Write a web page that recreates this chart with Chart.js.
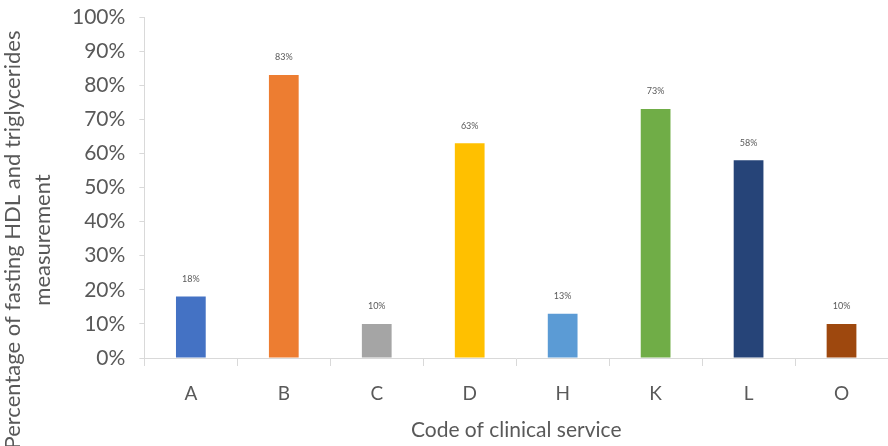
<!DOCTYPE html>
<html>
<head>
<meta charset="utf-8">
<script src="https://cdn.jsdelivr.net/npm/chart.js@4"></script>
<style>
  html, body { margin: 0; padding: 0; background: #fff; }
  #wrap { width: 888px; height: 446px; }
</style>
</head>
<body>
<div id="wrap"><canvas id="serviceChart"></canvas></div>
<script>
// Chart values
const services = ['A', 'B', 'C', 'D', 'H', 'K', 'L', 'O'];
const percentages = [18, 83, 10, 63, 13, 73, 58, 10];
const barColors = ['#4472C4', '#ED7D31', '#A5A5A5', '#FFC000', '#5B9BD5', '#70AD47', '#264478', '#9E480E'];
const yTicks = [0, 10, 20, 30, 40, 50, 60, 70, 80, 90, 100];
const yTitleLines = ['Percentage of fasting HDL and triglycerides', 'measurement'];

const textColor = '#595959';
const axisColor = '#D9D9D9';

// small labels above each bar
const valueLabels = {
    id: 'valueLabels',
    afterDatasetsDraw(chart) {
        const ctx = chart.ctx;
        const meta = chart.getDatasetMeta(0);
        ctx.save();
        ctx.font = '9px Lato';
        ctx.fillStyle = textColor;
        ctx.textAlign = 'center';
        ctx.textBaseline = 'bottom';
        meta.data.forEach((bar, i) => {
            ctx.fillText(percentages[i] + '%', bar.x, bar.y - 13);
        });
        ctx.restore();
    }
};

// y title sits lower than the plot centre in the original, so draw it by hand
const yTitle = {
    id: 'yTitle',
    afterDraw(chart) {
        const ctx = chart.ctx;
        ctx.save();
        ctx.translate(0, 240);
        ctx.rotate(-Math.PI / 2);
        ctx.font = '22px Lato';
        ctx.fillStyle = textColor;
        ctx.textAlign = 'center';
        ctx.textBaseline = 'middle';
        ctx.fillText(yTitleLines[0], 0, 13);
        ctx.fillText(yTitleLines[1], 0, 43);
        ctx.restore();
    }
};

const ctx = document.getElementById('serviceChart').getContext('2d');
const serviceChart = new Chart(ctx, {
    type: 'bar',
    data: {
        labels: services,
        datasets: [{
            label: 'Percentage',
            data: percentages,
            backgroundColor: barColors,
            borderWidth: 0,
            barPercentage: 0.32,
            categoryPercentage: 1
        }]
    },
    options: {
        responsive: true,
        maintainAspectRatio: false,
        animation: false,
        layout: { padding: { top: 0, right: -6, bottom: 3, left: 58 } },
        plugins: {
            legend: { display: false },
            tooltip: { enabled: false }
        },
        scales: {
            x: {
                afterFit(axis) {
                    axis.paddingLeft = 0;
                    axis.paddingRight = 0;
                },
                grid: { display: true, drawOnChartArea: false, color: axisColor, tickLength: 8, offset: true },
                border: { display: true, color: axisColor, width: 1 },
                ticks: { color: textColor, font: { family: 'Lato', size: 19 }, padding: 16 },
                title: {
                    display: true,
                    text: 'Code of clinical service',
                    color: textColor,
                    font: { family: 'Lato', size: 21 },
                    padding: { top: -3, bottom: 0 }
                }
            },
            y: {
                min: 0,
                max: 100,
                afterBuildTicks(axis) { axis.ticks = yTicks.map(v => ({ value: v })); },
                afterFit(axis) {
                    axis.paddingTop = 17;
                    axis.paddingBottom = 13;
                },
                grid: { display: true, drawOnChartArea: false, color: axisColor, tickLength: 5 },
                border: { display: true, color: axisColor, width: 1 },
                ticks: {
                    color: textColor,
                    font: { family: 'Lato', size: 21 },
                    padding: 14,
                    callback: v => v + '%'
                }
            }
        }
    },
    plugins: [valueLabels, yTitle]
});
</script>
</body>
</html>
